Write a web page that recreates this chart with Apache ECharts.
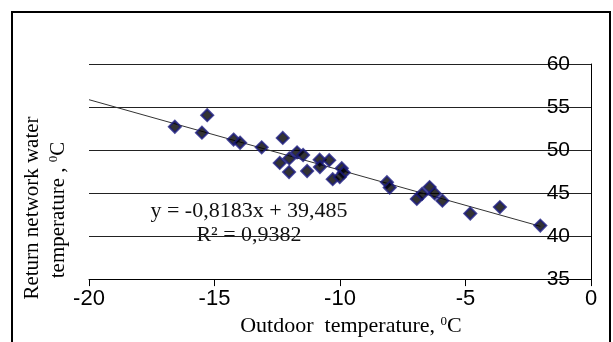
<!DOCTYPE html>
<html>
<head>
<meta charset="utf-8">
<script src="https://cdn.jsdelivr.net/npm/echarts@6/dist/echarts.min.js"></script>
<style>
  html, body { margin: 0; padding: 0; background: #fff; }
  #chart { width: 613px; height: 342px; }
</style>
</head>
<body>
<div id="chart"></div>
<script>
// Outdoor temperature (x) and return network water temperature (y)
const outdoorTemp = [
  -16.58, -15.29, -15.50, -14.24, -13.98, -13.12, -12.28, -12.40, -12.02, -11.71,
  -11.47, -12.03, -11.31, -10.81, -10.43, -10.80, -10.29, -9.93, -9.85, -10.01,
  -8.13, -8.02, -6.94, -6.73, -6.43, -6.23, -5.92, -4.81, -3.63, -2.02
];
const returnTemp = [
  52.71, 54.05, 52.02, 51.22, 50.85, 50.31, 51.41, 48.50, 49.03, 49.73,
  49.42, 47.44, 47.56, 48.87, 48.82, 48.02, 46.61, 47.89, 47.39, 46.86,
  46.27, 45.64, 44.32, 44.90, 45.69, 44.96, 44.12, 42.62, 43.37, 41.22
];

// Linear trend shown on the chart
const slope = -0.8183;
const intercept = 39.485;
const rSquared = 0.9382;
const trendFrom = -20;

const xTicks = [-20, -15, -10, -5, 0];
const yTicks = [35, 40, 45, 50, 55, 60];

const points = outdoorTemp.map((x, i) => [x, returnTemp[i]]);
const trendTo = Math.max(...outdoorTemp);
const trendLine = [trendFrom, trendTo].map(x => [x, slope * x + intercept]);

const fmt = v => String(v).replace('.', ',');
const eqText = 'y = ' + fmt(slope) + 'x + ' + fmt(intercept);
const r2Text = 'R\u00B2 = ' + fmt(rSquared);

const serif = 'Liberation Serif';
const sans = 'Liberation Sans';

const chart = echarts.init(document.getElementById('chart'), null, { renderer: 'canvas' });

chart.setOption({
  animation: false,
  backgroundColor: '#fff',
  grid: { left: 89, right: 22, top: 64, bottom: 54 },
  xAxis: {
    type: 'value',
    min: xTicks[0],
    max: xTicks[xTicks.length - 1],
    interval: 5,
    axisLine: { show: true, onZero: false, lineStyle: { color: '#000', width: 1 } },
    axisTick: { show: true, length: 7, lineStyle: { color: '#000' } },
    axisLabel: { fontFamily: sans, fontSize: 22, color: '#000', margin: 9 },
    splitLine: { show: false },
    name: '{t|Outdoor  temperature, }{s|0}{t|C}',
    nameLocation: 'middle',
    nameGap: 25,
    nameTextStyle: {
      padding: [0, 0, 0, 22],
      rich: {
        t: { fontFamily: serif, fontSize: 22, color: '#000' },
        s: { fontFamily: serif, fontSize: 13, color: '#000', verticalAlign: 'top' }
      }
    }
  },
  yAxis: {
    type: 'value',
    position: 'right',
    min: yTicks[0],
    max: yTicks[yTicks.length - 1],
    interval: 5,
    axisLine: { show: true, onZero: false, lineStyle: { color: '#000', width: 1 } },
    axisTick: { show: false },
    axisLabel: { inside: true, margin: 21, fontFamily: sans, fontSize: 21, color: '#000' },
    splitLine: { show: true, lineStyle: { color: '#222', width: 1 } }
  },
  graphic: [
    {
      type: 'rect',
      silent: true,
      shape: { x: 12, y: 12, width: 598, height: 345 },
      style: { fill: 'none', stroke: '#000', lineWidth: 2 }
    },
    {
      type: 'text',
      x: 32, y: 208,
      rotation: Math.PI / 2,
      style: {
        text: 'Return network water',
        font: '21px "' + serif + '"',
        fill: '#000',
        textAlign: 'center', textVerticalAlign: 'middle',
        align: 'center', verticalAlign: 'middle'
      }
    },
    {
      type: 'text',
      x: 58, y: 210,
      rotation: Math.PI / 2,
      style: {
        text: '{t|temperature , }{s|0}{t|C}',
        rich: {
          t: { fontFamily: serif, fontSize: 21, fill: '#000' },
          s: { fontFamily: serif, fontSize: 13, fill: '#000', verticalAlign: 'top' }
        },
        textAlign: 'center', textVerticalAlign: 'middle',
        align: 'center', verticalAlign: 'middle'
      }
    },
    {
      type: 'text',
      x: 249, y: 211,
      style: {
        text: eqText,
        font: '22px "' + serif + '"',
        fill: '#111',
        textAlign: 'center', textVerticalAlign: 'middle',
        align: 'center', verticalAlign: 'middle'
      }
    },
    {
      type: 'text',
      x: 249, y: 235,
      style: {
        text: r2Text,
        font: '22px "' + serif + '"',
        fill: '#111',
        textAlign: 'center', textVerticalAlign: 'middle',
        align: 'center', verticalAlign: 'middle'
      }
    }
  ],
  series: [
    {
      type: 'line',
      data: trendLine,
      showSymbol: false,
      symbol: 'none',
      lineStyle: { color: '#333', width: 1 },
      z: 2
    },
    {
      type: 'scatter',
      data: points,
      symbol: 'diamond',
      symbolSize: 12,
      itemStyle: { color: '#000', borderColor: '#1c1c80', borderWidth: 2 },
      z: 3
    }
  ]
});
</script>
</body>
</html>
